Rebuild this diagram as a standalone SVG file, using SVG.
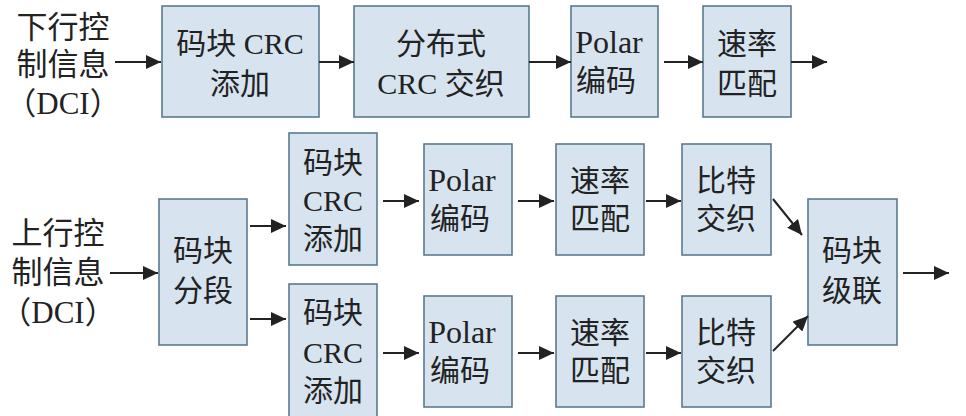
<svg xmlns="http://www.w3.org/2000/svg" width="966" height="416" viewBox="0 0 966 416">
<style>
.box{fill:#d7e4f0;stroke:#5b7b8f;stroke-width:1.6}
text{font-family:"Liberation Serif","Noto Sans CJK SC",serif;font-size:30px;fill:#222;text-anchor:middle}
.lbl{font-size:31px}
.pl{font-size:32px}
.c line{stroke:#222;stroke-width:2;marker-end:url(#ah)}
</style>
<defs>
<marker id="ah" markerUnits="userSpaceOnUse" markerWidth="16" markerHeight="14" refX="15" refY="7" orient="auto">
<path d="M0,0 L15,7 L0,14 z" fill="#222"/>
</marker>
</defs>
<rect width="966" height="416" fill="#fff"/>

<g id="dl-label">
<text class="lbl" x="63" y="38">下行控</text>
<text class="lbl" x="63" y="75">制信息</text>
<text class="lbl" x="63" y="114">（DCI）</text>
</g>
<g id="dl-crc"><rect class="box" x="162" y="6" width="157" height="111"/>
<text x="240" y="54">码块 CRC</text><text x="240" y="94">添加</text></g>
<g id="dl-dist"><rect class="box" x="354" y="6" width="175" height="111"/>
<text x="441" y="54">分布式</text><text x="441" y="94">CRC 交织</text></g>
<g id="dl-polar"><rect class="box" x="571" y="6" width="87" height="111"/>
<text class="pl" x="609" y="53">Polar</text><text x="606" y="91">编码</text></g>
<g id="dl-rm"><rect class="box" x="703" y="6" width="88" height="111"/>
<text x="747" y="54">速率</text><text x="747" y="94">匹配</text></g>

<g id="ul-label">
<text class="lbl" x="58" y="244">上行控</text>
<text class="lbl" x="58" y="283">制信息</text>
<text class="lbl" x="58" y="323">（DCI）</text>
</g>
<g id="ul-seg"><rect class="box" x="159" y="199" width="88" height="146"/>
<text x="203" y="261">码块</text><text x="203" y="301">分段</text></g>
<g id="ul-crc1"><rect class="box" x="289" y="133" width="88" height="132"/>
<text x="333" y="173">码块</text><text x="333" y="211">CRC</text><text x="333" y="249">添加</text></g>
<g id="ul-crc2"><rect class="box" x="289" y="284" width="88" height="140"/>
<text x="333" y="323">码块</text><text x="333" y="363">CRC</text><text x="333" y="401">添加</text></g>
<g id="ul-polar1"><rect class="box" x="424" y="144" width="88" height="111"/>
<text class="pl" x="462" y="191">Polar</text><text x="460" y="229">编码</text></g>
<g id="ul-polar2"><rect class="box" x="424" y="296" width="88" height="111"/>
<text class="pl" x="462" y="343">Polar</text><text x="460" y="381">编码</text></g>
<g id="ul-rm1"><rect class="box" x="556" y="144" width="88" height="111"/>
<text x="600" y="191">速率</text><text x="600" y="229">匹配</text></g>
<g id="ul-rm2"><rect class="box" x="556" y="296" width="88" height="111"/>
<text x="600" y="343">速率</text><text x="600" y="381">匹配</text></g>
<g id="ul-bi1"><rect class="box" x="682" y="144" width="89" height="111"/>
<text x="726" y="191">比特</text><text x="726" y="229">交织</text></g>
<g id="ul-bi2"><rect class="box" x="682" y="296" width="89" height="111"/>
<text x="726" y="343">比特</text><text x="726" y="381">交织</text></g>
<g id="ul-cat"><rect class="box" x="808" y="199" width="89" height="146"/>
<text x="852" y="261">码块</text><text x="852" y="301">级联</text></g>

<g id="connectors" class="c">
<line x1="115" y1="62" x2="161" y2="62"/>
<line x1="319" y1="62" x2="354" y2="62"/>
<line x1="529" y1="62" x2="571" y2="62"/>
<line x1="664" y1="62" x2="703" y2="62"/>
<line x1="791" y1="62" x2="827" y2="62"/>
<line x1="110" y1="273" x2="158" y2="273"/>
<line x1="250" y1="226" x2="286" y2="226"/>
<line x1="250" y1="319" x2="286" y2="319"/>
<line x1="383" y1="201" x2="419" y2="201"/>
<line x1="383" y1="353" x2="419" y2="353"/>
<line x1="518" y1="201" x2="554" y2="201"/>
<line x1="518" y1="353" x2="554" y2="353"/>
<line x1="646" y1="201" x2="681" y2="201"/>
<line x1="646" y1="353" x2="681" y2="353"/>
<line x1="773" y1="199" x2="802" y2="235"/>
<line x1="773" y1="351" x2="808" y2="316"/>
<line x1="903" y1="273" x2="949" y2="273"/>
</g>
</svg>
